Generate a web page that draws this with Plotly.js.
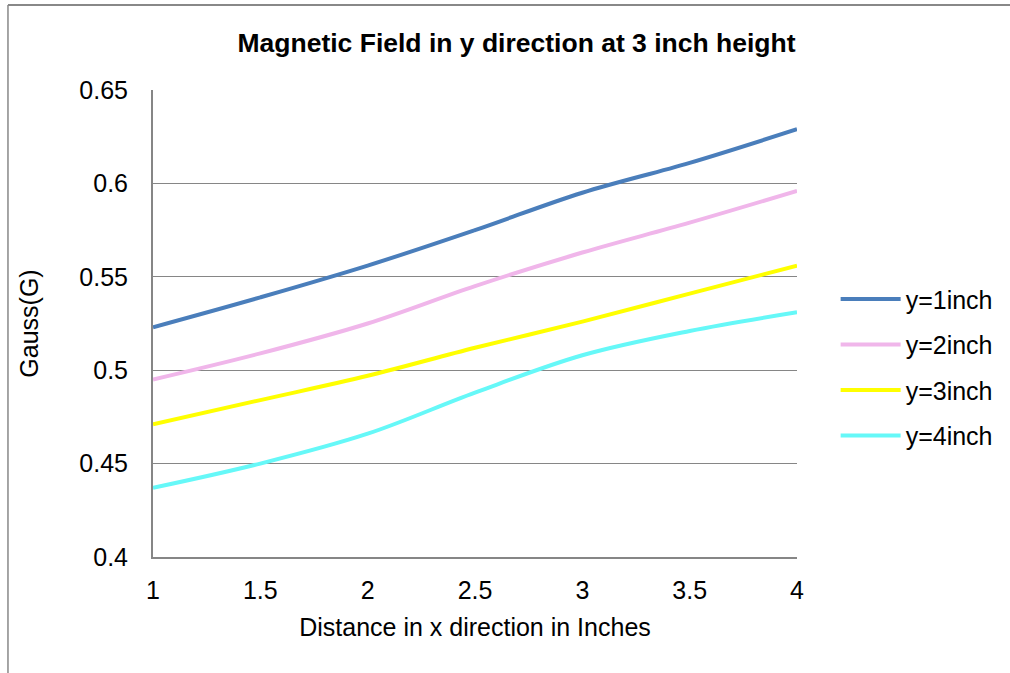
<!DOCTYPE html>
<html>
<head>
<meta charset="utf-8">
<script src="https://cdn.plot.ly/plotly-3.0.1.min.js"></script>
<style>
  html, body { margin: 0; padding: 0; background: #ffffff; }
  #chart { width: 1010px; height: 673px; }
</style>
</head>
<body>
<div id="chart"></div>
<script>
// Distance along x (inches)
var distance = [1, 1.5, 2, 2.5, 3, 3.5, 4];

// Field readings (Gauss) at each y offset
var fieldY1 = [0.523, 0.539, 0.556, 0.575, 0.595, 0.611, 0.629];
var fieldY2 = [0.495, 0.509, 0.525, 0.545, 0.563, 0.579, 0.596];
var fieldY3 = [0.471, 0.484, 0.497, 0.512, 0.526, 0.541, 0.556];
var fieldY4 = [0.437, 0.450, 0.466, 0.488, 0.508, 0.521, 0.531];

var seriesNames = ['y=1inch', 'y=2inch', 'y=3inch', 'y=4inch'];
var seriesColors = ['#4a7ebb', '#f0b6ea', '#ffff00', '#66f8f8'];
var seriesValues = [fieldY1, fieldY2, fieldY3, fieldY4];

var yTicks = [0.4, 0.45, 0.5, 0.55, 0.6, 0.65];
var yTickText = ['0.4', '0.45', '0.5', '0.55', '0.6', '0.65'];
var xTicks = [1, 1.5, 2, 2.5, 3, 3.5, 4];
var xTickText = ['1', '1.5', '2', '2.5', '3', '3.5', '4'];

var FONT = 'Liberation Sans, Arial, sans-serif';
var TXT = 25;

var traces = seriesValues.map(function (vals, i) {
  return {
    x: distance,
    y: vals,
    name: seriesNames[i],
    legendgroup: 'g' + i,
    type: 'scatter',
    mode: 'lines',
    line: { color: seriesColors[i], width: 4, shape: 'spline', smoothing: 1 },
    hoverinfo: 'x+y+name'
  };
});

var layout = {
  width: 1010,
  height: 673,
  paper_bgcolor: '#ffffff',
  plot_bgcolor: '#ffffff',
  margin: { l: 153, r: 213, t: 90, b: 116, pad: 0 },
  font: { family: FONT, size: TXT, color: '#000000' },
  title: {
    text: '<b>Magnetic Field in y direction at 3 inch height</b>',
    font: { family: FONT, size: 26.5, color: '#000000' },
    x: 0.5645, xref: 'paper', xanchor: 'center',
    y: 0.936, yref: 'container', yanchor: 'middle'
  },
  xaxis: {
    range: [1, 4],
    tickvals: xTicks,
    ticktext: xTickText,
    ticks: 'outside', ticklen: 10, tickcolor: 'rgba(0,0,0,0)',
    showgrid: false,
    zeroline: false,
    showline: true, linecolor: '#868686', linewidth: 2,
    tickfont: { family: FONT, size: TXT, color: '#000000' },
    title: {
      text: 'Distance in x direction in Inches',
      font: { family: FONT, size: TXT, color: '#000000' },
      standoff: 15
    },
    fixedrange: true
  },
  yaxis: {
    range: [0.4, 0.65],
    tickvals: yTicks,
    ticktext: yTickText,
    ticks: 'outside', ticklen: 18, tickcolor: 'rgba(0,0,0,0)',
    showgrid: true, gridcolor: '#868686', gridwidth: 1.3,
    zeroline: false,
    showline: true, linecolor: '#868686', linewidth: 2,
    tickfont: { family: FONT, size: TXT, color: '#000000' },
    title: {
      text: 'Gauss(G)',
      font: { family: FONT, size: TXT, color: '#000000' },
      standoff: 34
    },
    fixedrange: true
  },
  showlegend: true,
  legend: {
    x: 1.06, xanchor: 'left',
    y: 0.601, yanchor: 'top',
    traceorder: 'grouped',
    tracegroupgap: 10,
    itemwidth: 60,
    font: { family: FONT, size: TXT, color: '#000000' },
    bgcolor: 'rgba(0,0,0,0)'
  },
  shapes: [
    // outer chart frame
    { type: 'line', xref: 'paper', yref: 'paper',
      x0: -0.2252, x1: -0.2252, y0: -0.26, y1: 1.182,
      line: { color: '#888888', width: 1.5 } },
    { type: 'line', xref: 'paper', yref: 'paper',
      x0: -0.2252, x1: 1.35, y0: 1.182, y1: 1.182,
      line: { color: '#888888', width: 2 } }
  ]
};

Plotly.newPlot('chart', traces, layout, { displayModeBar: false, staticPlot: true });
</script>
</body>
</html>
